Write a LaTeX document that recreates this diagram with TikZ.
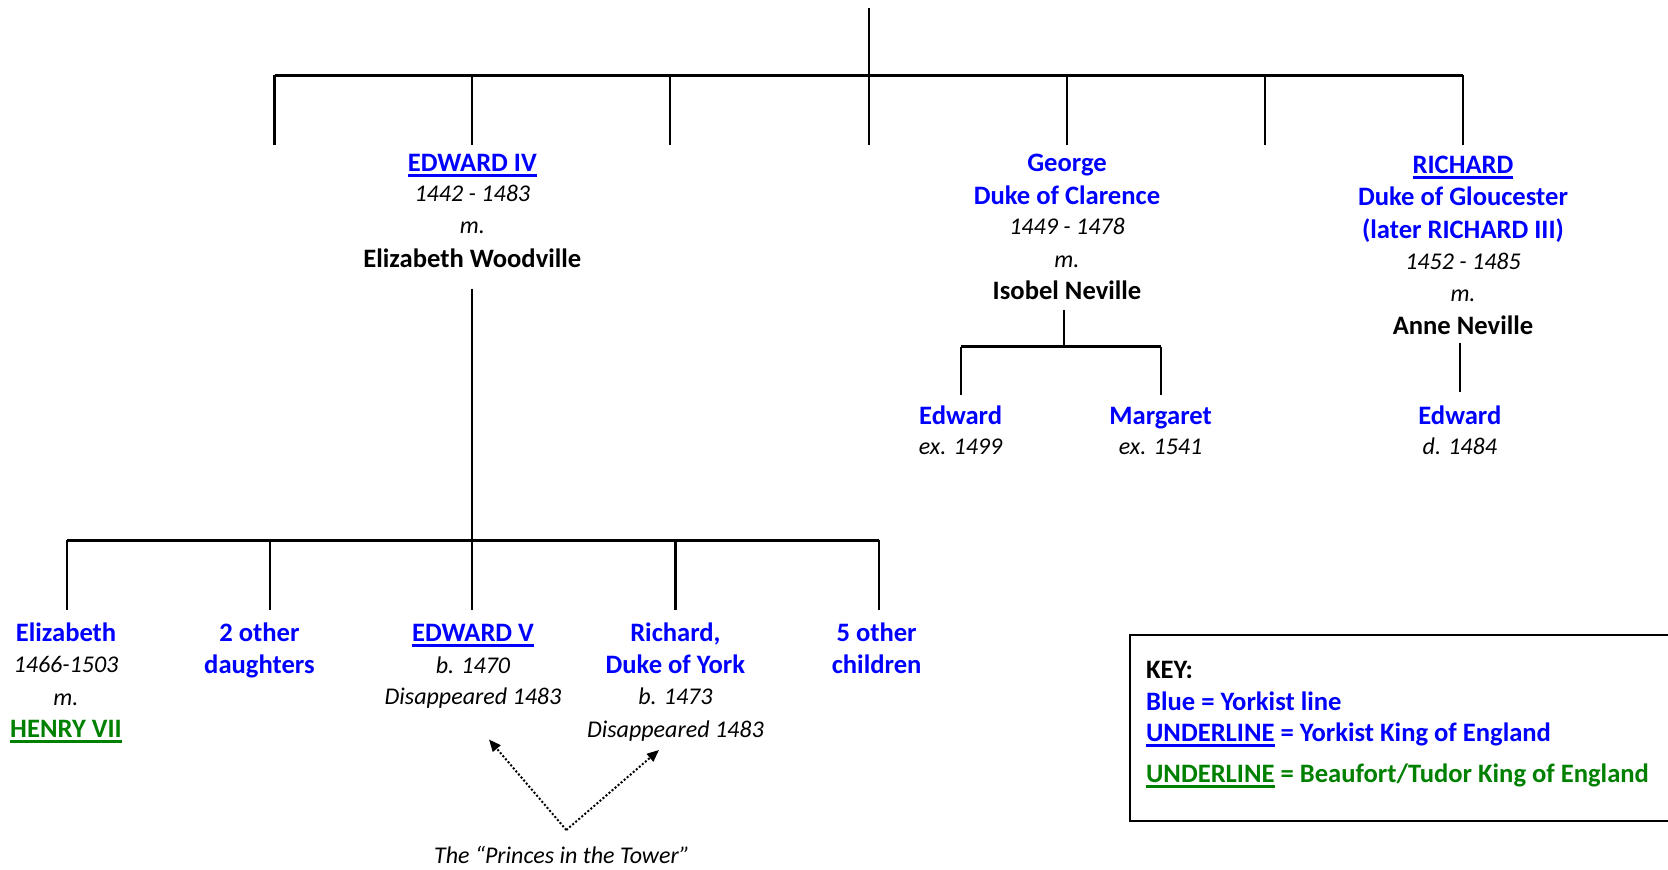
\documentclass[tikz,border=0pt]{standalone}
\usepackage{fontspec}
\setmainfont{Carlito}
\usetikzlibrary{arrows.meta}
\definecolor{yblue}{RGB}{0,0,255}
\definecolor{tgreen}{RGB}{0,128,0}
\newcommand{\uln}[1]{\setbox0\hbox{#1}\rlap{\vrule height -1.4pt depth 2.8pt width \wd0}\box0\relax}
\begin{document}
\begin{tikzpicture}[x=0.5pt,y=-0.5pt,
  txt/.style={inner sep=0pt, text height=0.83em, text depth=0pt, anchor=center},
  nm/.style={txt, font=\fontsize{13.3}{15}\selectfont\bfseries, text=yblue},
  gr/.style={txt, font=\fontsize{13.3}{15}\selectfont\bfseries, text=tgreen},
  bk/.style={txt, font=\fontsize{13.3}{15}\selectfont\bfseries},
  it/.style={txt, font=\fontsize{12}{14}\selectfont\itshape},
  keyt/.style={txt, anchor=west, font=\fontsize{13.3}{15}\selectfont\bfseries},
  ln/.style={line width=1.1pt},
  barl/.style={line width=1.5pt},
  ptr/.style={line width=1pt, dash pattern=on 1pt off 1pt, -{Triangle[length=6pt,width=5pt]}}]
\useasboundingbox (0,0) rectangle (1668,870);

% ---------- top level ----------
\coordinate (top0) at (869.1,8.5);
\coordinate (topbar) at (869.1,75.5);
\coordinate (b1) at (274.5,75.5);
\coordinate (b2) at (472.3,75.5);
\coordinate (b3) at (670.2,75.5);
\coordinate (b4) at (869.1,75.5);
\coordinate (b5) at (1067,75.5);
\coordinate (b6) at (1264.9,75.5);
\coordinate (b7) at (1462.7,75.5);
\coordinate (d1) at (274.5,144.7);
\coordinate (d2) at (472.3,144.7);
\coordinate (d3) at (670.2,144.7);
\coordinate (d4) at (869.1,144.7);
\coordinate (d5) at (1067,144.7);
\coordinate (d6) at (1264.9,144.7);
\coordinate (d7) at (1462.7,144.7);
\draw[ln] (top0) -- (topbar);
\draw[barl] (b1) -- (b7);
\foreach \i in {1,...,7} { \draw[ln] (b\i) -- (d\i); }

% ---------- Edward IV ----------
\node[nm] (e4a) at (472.3,162.8) {\uln{EDWARD IV}};
\node[it] (e4b) at (472.3,193.6) {1442 - 1483};
\node[it] (e4c) at (472.3,225.5) {m.};
\node[bk] (e4d) at (472.3,259.6) {Elizabeth Woodville};

% ---------- George ----------
\node[nm] (ga) at (1067,163.3) {George};
\node[nm] (gb) at (1067,196) {Duke of Clarence};
\node[it] (gc) at (1067,226.7) {1449 - 1478};
\node[it] (gd) at (1067,259.3) {m.};
\node[bk] (ge) at (1067,291.7) {Isobel Neville};

% ---------- Richard ----------
\node[nm] (ra) at (1463,165) {\uln{RICHARD}};
\node[nm] (rb) at (1463,197.7) {Duke of Gloucester};
\node[nm] (rc) at (1463,230) {(later RICHARD III)};
\node[it] (rd) at (1463,261) {1452 - 1485};
\node[it] (re) at (1463,293.3) {m.};
\node[bk] (rf) at (1463,326.7) {Anne Neville};

% ---------- Clarence children ----------
\coordinate (c0) at (1063.9,310);
\coordinate (cbar) at (1063.9,346.7);
\coordinate (cl) at (960.6,346.7);
\coordinate (cr) at (1160.8,346.7);
\coordinate (cld) at (960.6,395.3);
\coordinate (crd) at (1160.8,395.3);
\draw[ln] (c0) -- (cbar);
\draw[barl] (cl) -- (cr);
\draw[ln] (cl) -- (cld);
\draw[ln] (cr) -- (crd);
\node[nm] (cea) at (960.6,416) {Edward};
\node[it] (ceb) at (960.6,446.7) {ex. 1499};
\node[nm] (cma) at (1160.6,416.7) {Margaret};
\node[it] (cmb) at (1160.6,446.7) {ex. 1541};

% ---------- Richard's child ----------
\coordinate (r0) at (1459.8,343.3);
\coordinate (r1) at (1459.8,392);
\draw[ln] (r0) -- (r1);
\node[nm] (rea) at (1459.8,416) {Edward};
\node[it] (reb) at (1459.8,446.7) {d. 1484};

% ---------- Edward IV children ----------
\coordinate (e0) at (472.3,289);
\coordinate (ebar) at (472.3,540.4);
\coordinate (k1) at (67,540.4);
\coordinate (k2) at (270.2,540.4);
\coordinate (k3) at (472.3,540.4);
\coordinate (k4) at (675.5,540.4);
\coordinate (k5) at (878.7,540.4);
\coordinate (kd1) at (67,609.5);
\coordinate (kd2) at (270.2,609.5);
\coordinate (kd3) at (472.3,609.5);
\coordinate (kd4) at (675.5,609.5);
\coordinate (kd5) at (878.7,609.5);
\draw[ln] (e0) -- (ebar);
\draw[barl] (k1) -- (k5);
\foreach \i in {1,...,5} { \draw[ln] (k\i) -- (kd\i); }

\node[nm] (ela) at (66,632.7) {Elizabeth};
\node[it] (elb) at (66,664) {1466-1503};
\node[it] (elc) at (66,696.7) {m.};
\node[gr] (eld) at (66,729) {\uln{HENRY VII}};

\node[nm] (oda) at (259.4,633) {2 other};
\node[nm] (odb) at (259.4,665) {daughters};

\node[nm] (e5a) at (473,633) {\uln{EDWARD V}};
\node[it] (e5b) at (473,665) {b. 1470};
\node[it] (e5c) at (473,696) {Disappeared 1483};

\node[nm] (rya) at (675.4,633) {Richard,};
\node[nm] (ryb) at (675.4,665) {Duke of York};
\node[it] (ryc) at (675.4,696) {b. 1473};
\node[it] (ryd) at (675.4,729) {Disappeared 1483};

\node[nm] (oca) at (876.6,633) {5 other};
\node[nm] (ocb) at (876.6,665) {children};

% ---------- Princes in the Tower ----------
\coordinate (apex) at (566.3,830);
\coordinate (tipl) at (489,739.5);
\coordinate (tipr) at (659,750);
\draw[ptr] (apex) -- (tipl);
\draw[ptr] (apex) -- (tipr);
\node[it] (pt) at (562,855) {The “Princes in the Tower”};

% ---------- Key ----------
\draw[line width=1.1pt] (1129.8,635) rectangle (1700,821);
\node[keyt] (k0) at (1145.7,670) {KEY:};
\node[keyt, text=yblue] (kb) at (1145.7,701.7) {Blue = Yorkist line};
\node[keyt, text=yblue] (ku) at (1145.7,733.3) {\uln{UNDERLINE} = Yorkist King of England};
\node[keyt, text=tgreen] (kg) at (1145.7,774) {\uln{UNDERLINE} = Beaufort/Tudor King of England};
\end{tikzpicture}
\end{document}
